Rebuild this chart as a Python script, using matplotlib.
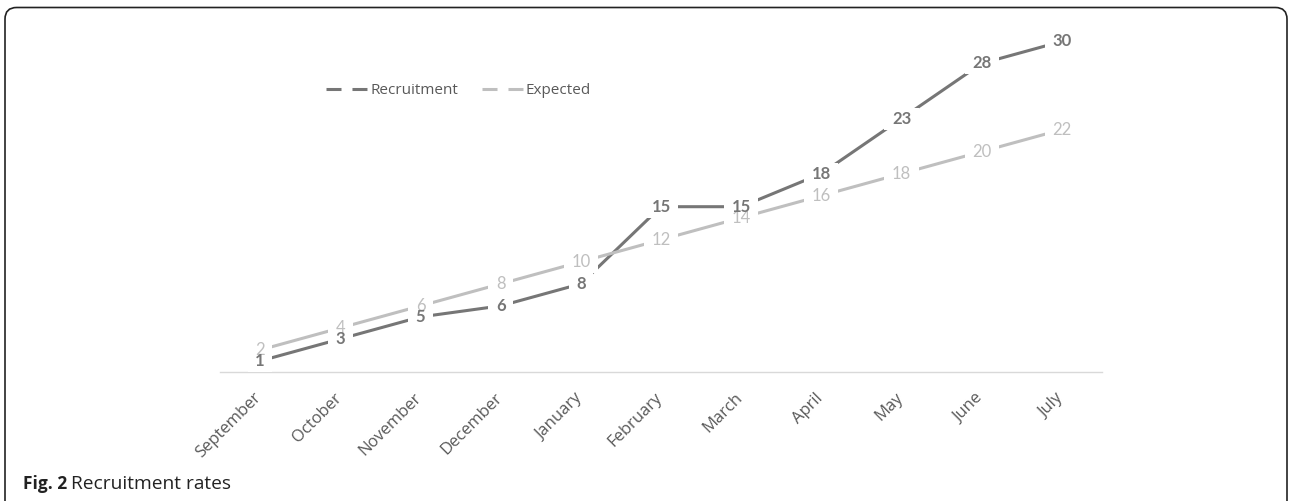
import matplotlib
matplotlib.use("Agg")
import matplotlib.pyplot as plt
from matplotlib.lines import Line2D
from matplotlib.patches import FancyBboxPatch, Rectangle
from matplotlib.transforms import IdentityTransform, ScaledTranslation

plt.rcParams['lines.scale_dashes'] = False

months = ["September", "October", "November", "December", "January", "February",
          "March", "April", "May", "June", "July"]
recruitment = [1, 3, 5, 6, 8, 15, 15, 18, 23, 28, 30]
expected = [2, 4, 6, 8, 10, 12, 14, 16, 18, 20, 22]

DARK = "#767676"
LIGHT = "#BFBFBF"
TXT = "#595959"
LBLFONT = "Lato"
TXTFONT = "Open Sans"

W, H = 1290, 501
fig = plt.figure(figsize=(W / 100, H / 100), dpi=100)

x0, x1 = 220, 1102
ybase = 372
ymax = 32
ppu = 11.02
ytop = ybase - ymax * ppu
ax = fig.add_axes([x0 / W, (H - ybase) / H, (x1 - x0) / W, (ybase - ytop) / H])

x = list(range(len(months)))
ax.plot(x, recruitment, color=DARK, lw=2.2, solid_capstyle='butt', zorder=2)
ax.plot(x, expected, color=LIGHT, lw=2.2, solid_capstyle='butt', zorder=2)

ax.set_xlim(-0.5, len(months) - 0.5)
ax.set_ylim(0, ymax)

texts = []
for xi, v in zip(x, expected):
    texts.append(ax.text(xi, v, str(v), ha='center', va='center', fontsize=12,
                         color=LIGHT, family=LBLFONT, zorder=5))
for xi, v in zip(x, recruitment):
    texts.append(ax.text(xi, v, str(v), ha='center', va='center', fontsize=12,
                         color=DARK, family=LBLFONT, fontweight='bold', zorder=6))

ax.set_xticks(x)
ax.set_xticklabels(months, rotation=45, ha='right', va='center',
                   rotation_mode='anchor', fontsize=12, color=TXT, family=TXTFONT)
ax.tick_params(axis='x', length=0, pad=17)
off = ScaledTranslation(-1 / 100, 0, fig.dpi_scale_trans)
for lbl in ax.get_xticklabels():
    lbl.set_transform(lbl.get_transform() + off)
ax.set_yticks([])
for s in ['top', 'right', 'left']:
    ax.spines[s].set_visible(False)
ax.spines['bottom'].set_color('#D9D9D9')
ax.spines['bottom'].set_linewidth(1)
ax.spines['bottom'].set_zorder(1)
ax.set_facecolor('none')

# white label backgrounds (gaps in the lines), drawn under all label texts
fig.canvas.draw()
r = fig.canvas.get_renderer()
for t in texts:
    ext = t.get_window_extent(r)
    cx, cy = ax.transData.transform(t.get_position())
    w = ext.width + 15
    h = 22
    ax.add_patch(Rectangle((cx - w / 2, cy - h / 2), w, h, transform=IdentityTransform(),
                           fc='white', ec='none', zorder=3, clip_on=False))

handles = [Line2D([], [], color=DARK, lw=2.2, dashes=(10.8, 7.9)),
           Line2D([], [], color=LIGHT, lw=2.2, dashes=(10.8, 7.9))]
fig.legend(handles, ["Recruitment", "Expected"], ncol=2, frameon=False,
           loc='center left', bbox_to_anchor=(312 / W, 1 - 91 / H),
           prop=dict(family=TXTFONT, size=11), labelcolor=TXT,
           handlelength=2.7, handletextpad=0.2, columnspacing=1.55)

frame = FancyBboxPatch((5 / W, -0.2), (W - 8) / W, 1.2 - 7.5 / H,
                       boxstyle='round,pad=0,rounding_size=0.009',
                       transform=fig.transFigure, fc='none', ec='#222222',
                       lw=1.2, mutation_aspect=W / H)
fig.patches.append(frame)

fig.text(23 / W, 1 - 484 / H, "Fig. 2", fontsize=12.5, fontweight='bold',
         family="Open Sans", color="#222222", va='center')
fig.text(71 / W, 1 - 484 / H, "Recruitment rates", fontsize=13.8,
         family="Open Sans", color="#222222", va='center')

fig.savefig("out.png", dpi=100)
